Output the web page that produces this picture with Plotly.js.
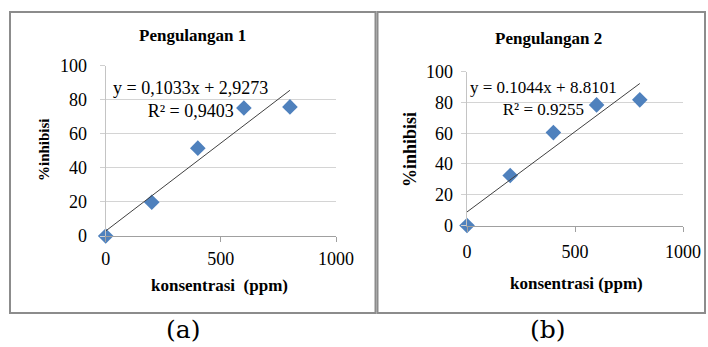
<!DOCTYPE html>
<html>
<head>
<meta charset="utf-8">
<script src="https://cdn.plot.ly/plotly-3.0.1.min.js"></script>
<style>html,body{margin:0;padding:0;background:#fff;}#chart{width:708px;height:347px;}</style>
</head>
<body>
<div id="chart"></div>
<script>
// ---- data ----
const konsentrasi = [0, 200, 400, 600, 800];
const inhibisi1 = [0, 19.8, 51.6, 75.2, 75.8];
const inhibisi2 = [0, 32.5, 60.4, 78.4, 81.7];
const trendX = [0, 800];
const trendY1 = [2.93, 85.57];
const trendY2 = [8.81, 92.33];
const xTicks = [0, 500, 1000];
const yTicks = [0, 20, 40, 60, 80, 100];
const title1 = 'Pengulangan 1';
const title2 = 'Pengulangan 2';
const eq1 = 'y = 0,1033x + 2,9273<br>R² = 0,9403';
const eq2 = 'y = 0.1044x + 8.8101<br>R² = 0.9255';
const xTitle1 = 'konsentrasi  (ppm)';
const xTitle2 = 'konsentrasi (ppm)';
const yTitle = '%inhibisi';
const captions = ['(a)', '(b)'];

const W = 708, H = 347;
const px = v => v / W;
const py = v => 1 - v / H;
const serif = 'Liberation Serif';
const capFont = 'DejaVu Serif';
const markerColor = '#4F81BD';
const NB = '\u00a0';

const traces = [
  {x: konsentrasi, y: inhibisi1, xaxis: 'x', yaxis: 'y', type: 'scatter', mode: 'markers', cliponaxis: false,
   marker: {symbol: 'diamond', size: 12, color: markerColor, line: {width: 0}}},
  {x: trendX, y: trendY1, xaxis: 'x', yaxis: 'y', type: 'scatter', mode: 'lines', cliponaxis: false,
   line: {color: '#404040', width: 1}},
  {x: konsentrasi, y: inhibisi2, xaxis: 'x2', yaxis: 'y2', type: 'scatter', mode: 'markers', cliponaxis: false,
   marker: {symbol: 'diamond', size: 12, color: markerColor, line: {width: 0}}},
  {x: trendX, y: trendY2, xaxis: 'x2', yaxis: 'y2', type: 'scatter', mode: 'lines', cliponaxis: false,
   line: {color: '#404040', width: 1}}
];

function xax(domain, standoff) {
  return {domain: domain, range: [0, 1000], tickvals: xTicks, ticktext: xTicks.map(String),
    ticks: 'outside', ticklen: 5, tickcolor: '#A0A0A0', showline: true, linecolor: '#A0A0A0', linewidth: 1,
    ticklabelstandoff: standoff,
    showgrid: false, zeroline: false, tickfont: {family: serif, size: 18, color: '#000'}, fixedrange: true};
}
function yax(domain, pad) {
  return {domain: domain, range: [0, 100], tickvals: yTicks, ticktext: yTicks.map(v => String(v) + pad),
    ticks: 'outside', ticklen: 5, tickcolor: '#D0D0D0', showline: true, linecolor: '#C4C4C4', linewidth: 1,
    showgrid: true, gridcolor: '#D4D4D4', gridwidth: 1, zeroline: false,
    tickfont: {family: serif, size: 18, color: '#000'}, fixedrange: true};
}

const ann = (x, y, text, size, opts) => Object.assign({xref: 'paper', yref: 'paper', x: px(x), y: py(y),
  text: text, showarrow: false, xanchor: 'center', yanchor: 'middle',
  font: {family: serif, size: size, color: '#000'}}, opts || {});

const layout = {
  width: W, height: H, margin: {l: 0, r: 0, t: 0, b: 0},
  font: {family: serif},
  paper_bgcolor: '#fff', plot_bgcolor: '#fff', showlegend: false,
  xaxis: Object.assign(xax([px(105.7), px(336)], 1), {anchor: 'y'}),
  yaxis: Object.assign(yax([py(236), py(65.7)], NB + NB), {anchor: 'x'}),
  xaxis2: Object.assign(xax([px(467), px(683)], 5), {anchor: 'y2'}),
  yaxis2: Object.assign(yax([py(225.5), py(71.7)], NB), {anchor: 'x2'}),
  shapes: [
    {type: 'rect', xref: 'paper', yref: 'paper', x0: px(10), x1: px(375.5), y0: py(313), y1: py(12),
     line: {color: '#8C8C8C', width: 2}},
    {type: 'rect', xref: 'paper', yref: 'paper', x0: px(377.5), x1: px(705), y0: py(313), y1: py(12),
     line: {color: '#8C8C8C', width: 2}}
  ],
  annotations: [
    ann(192, 35, '<b>' + title1 + '</b>', 17),
    ann(548, 39, '<b>' + title2 + '</b>', 17),
    ann(219, 285, '<b>' + xTitle1 + '</b>', 17),
    ann(576, 283, '<b>' + xTitle2 + '</b>', 17),
    ann(44, 150, '<b>' + yTitle + '</b>', 15, {textangle: -90}),
    ann(410, 150, '<b>' + yTitle + '</b>', 18, {textangle: -90}),
    ann(190.5, 100, eq1, 18, {align: 'center'}),
    ann(543.5, 98, eq2, 17, {align: 'center'}),
    ann(183, 329, captions[0], 25, {font: {family: capFont, size: 25, color: '#000'}}),
    ann(548, 329, captions[1], 25, {font: {family: capFont, size: 25, color: '#000'}})
  ]
};

Plotly.newPlot('chart', traces, layout, {displayModeBar: false, staticPlot: true});
</script>
</body>
</html>
